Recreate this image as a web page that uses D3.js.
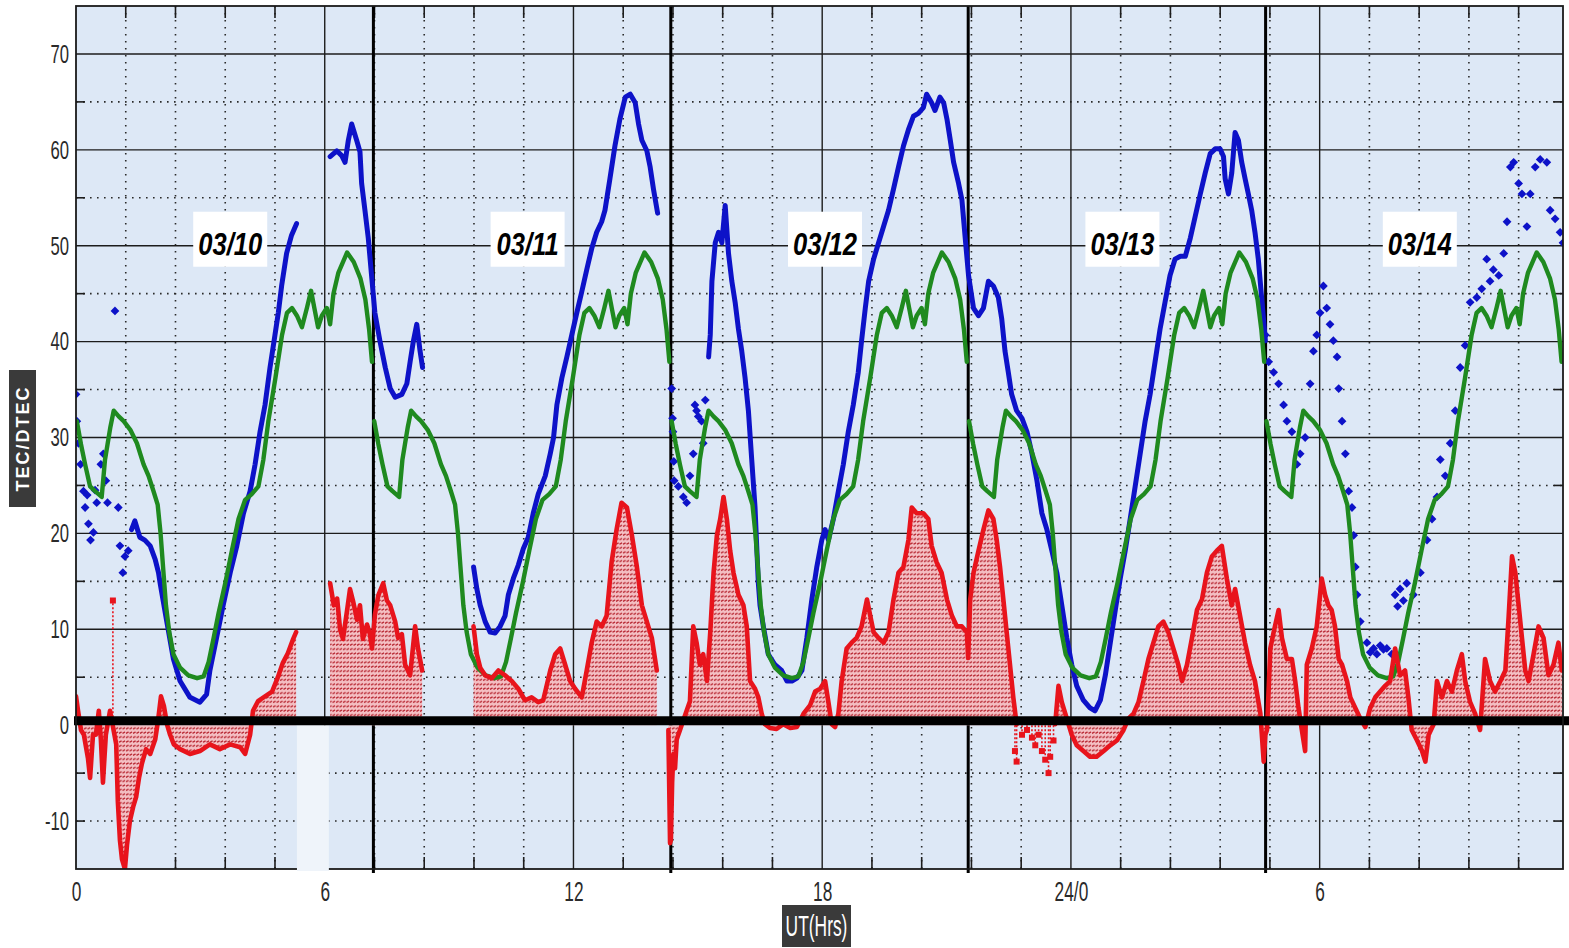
<!DOCTYPE html>
<html>
<head>
<meta charset="utf-8">
<script src="https://cdn.jsdelivr.net/npm/d3@7"></script>
<style>
  html, body { margin: 0; padding: 0; background: #ffffff; }
  svg { display: block; }
</style>
</head>
<body>
<svg id="chart" width="1569" height="948"></svg>
<script>
// ---------------------------------------------------------------
// TEC / DTEC, 10-14 March, plotted against UT hours
// ---------------------------------------------------------------

const dayStartHours = [0, 7.174, 14.348, 21.522, 28.696];
const dayLabels = ["03/10", "03/11", "03/12", "03/13", "03/14"];

const yTickValues = [-10, 0, 10, 20, 30, 40, 50, 60, 70];
const xTickValues = [0, 6, 12, 18, 24, 30];
const xTickLabels = ["0", "6", "12", "18", "24/0", "6"];

// stretch with no usable samples
const gapBands = [[5.33, 6.10]];

// monthly mean TEC for one day, [hour within day, TEC]
const meanTecProfile = [
  [0.02,31.7],[0.12,29.3],[0.22,27.2],[0.34,24.9],[0.46,24.4],[0.62,23.8],[0.70,27.7],
  [0.83,31.1],[0.91,32.8],[1.03,32.2],[1.15,31.7],[1.31,30.8],[1.47,29.4],[1.63,27.2],
  [1.75,26.0],[1.87,24.4],[1.97,23.0],[2.04,20.0],[2.10,16.5],[2.17,12.5],[2.25,9.7],
  [2.35,7.4],[2.51,6.0],[2.71,5.2],[2.92,4.9],[3.08,5.1],[3.20,6.6],[3.32,9.1],[3.44,11.7],
  [3.60,14.8],[3.76,18.2],[3.92,21.5],[4.08,23.5],[4.24,24.1],[4.40,24.9],[4.52,27.7],
  [4.64,31.7],[4.81,36.2],[4.97,40.7],[5.09,43.0],[5.21,43.5],[5.33,42.7],[5.45,41.5],
  [5.57,43.5],[5.67,45.3],[5.75,43.5],[5.84,41.5],[5.93,42.7],[6.05,43.5],[6.13,41.8],
  [6.21,45.0],[6.33,47.2],[6.54,49.3],[6.70,48.3],[6.86,46.6],[6.98,44.4],[7.07,41.3],[7.14,37.9]
];

// observed TEC, continuous tracks (null = break)
const tecTrace = [
  [1.34,20.4],[1.42,21.3],[1.54,19.6],[1.66,19.3],[1.79,18.7],[1.91,17.3],
  [1.99,15.9],[2.03,14.8],[2.19,10.8],[2.35,6.9],[2.51,4.6],[2.75,2.9],[2.99,2.4],[3.15,3.2],
  [3.23,5.7],[3.39,9.1],[3.55,12.5],[3.72,15.9],[3.88,18.7],[4.04,22.1],[4.20,24.4],[4.32,27.2],
  [4.44,30.6],[4.56,33.4],[4.68,37.3],[4.80,40.7],[4.88,43.0],[4.96,45.8],[5.08,49.2],[5.20,51.1],[5.32,52.3],
  null,
  [6.13,59.3],[6.29,59.9],[6.41,59.4],[6.49,58.7],[6.57,61.0],[6.65,62.7],[6.77,61.0],[6.85,59.8],
  [6.89,56.5],[6.97,53.7],[7.05,50.8],[7.13,46.9],[7.21,43.0],[7.33,40.1],[7.46,37.3],[7.58,35.1],
  [7.70,34.2],[7.86,34.5],[7.98,35.6],[8.06,37.9],[8.14,40.1],[8.22,41.8],[8.30,39.0],[8.36,37.3],
  null,
  [9.59,16.5],[9.67,14.2],[9.75,12.5],[9.87,10.8],[9.99,9.7],[10.11,9.6],[10.23,10.3],[10.35,11.4],
  [10.43,13.6],[10.55,15.3],[10.67,16.7],[10.79,18.4],[10.91,19.6],[11.03,22.1],[11.15,24.1],
  [11.32,26.0],[11.44,28.3],[11.52,30.0],[11.60,33.4],[11.72,36.2],[11.84,38.4],[11.96,40.7],
  [12.08,43.0],[12.20,45.2],[12.32,47.5],[12.44,49.7],[12.56,51.4],[12.68,52.5],[12.76,53.7],
  [12.88,57.0],[13.00,60.4],[13.12,63.2],[13.25,65.5],[13.37,65.8],[13.49,64.9],[13.57,62.7],
  [13.65,61.0],[13.77,59.9],[13.85,58.2],[13.93,55.9],[14.03,53.4],
  null,
  [15.26,38.4],[15.30,40.7],[15.34,46.3],[15.42,50.3],[15.50,51.4],[15.58,50.3],[15.66,54.2],
  [15.74,49.2],[15.82,46.3],[15.90,44.1],[15.98,41.3],[16.06,39.0],[16.14,36.2],[16.22,32.8],
  [16.30,27.7],[16.38,22.7],[16.42,18.7],[16.46,14.8],[16.50,12.5],[16.58,10.3],[16.70,7.4],
  [16.86,6.3],[17.02,5.7],[17.15,4.6],[17.27,4.6],[17.39,4.9],[17.51,5.7],[17.63,9.1],[17.75,13.1],
  [17.87,16.5],[17.99,19.3],[18.07,20.4],[18.15,19.3],[18.27,21.5],[18.39,24.4],[18.51,27.2],
  [18.63,30.6],[18.75,33.4],[18.87,36.8],[18.95,40.1],[19.04,43.5],[19.12,46.3],[19.24,48.6],
  [19.36,50.3],[19.48,52.0],[19.60,53.7],[19.72,55.9],[19.84,58.2],[19.96,60.4],[20.08,62.1],
  [20.20,63.5],[20.32,63.8],[20.44,64.4],[20.52,65.8],[20.64,64.9],[20.72,64.1],[20.84,65.5],
  [20.93,64.9],[21.01,63.2],[21.09,61.0],[21.17,58.7],[21.29,56.5],[21.37,54.8],[21.45,50.8],
  [21.53,46.9],[21.65,43.5],[21.77,42.7],[21.89,43.5],[22.01,46.3],[22.13,45.8],[22.25,44.6],
  [22.33,42.4],[22.41,39.0],[22.49,36.8],[22.57,34.5],[22.69,32.8],[22.82,32.0],[22.94,30.6],
  [23.06,28.3],[23.18,25.5],[23.30,22.1],[23.42,20.4],[23.54,18.2],[23.66,15.9],[23.78,12.5],
  [23.90,9.1],[24.02,6.3],[24.14,4.1],[24.30,2.6],[24.46,1.8],[24.58,1.5],[24.71,2.6],[24.83,5.2],
  [24.95,8.6],[25.07,12.0],[25.19,15.3],[25.31,18.2],[25.43,21.5],[25.55,24.9],[25.67,28.3],
  [25.79,31.7],[25.91,34.5],[26.03,37.9],[26.15,41.3],[26.27,44.1],[26.39,46.9],[26.51,48.6],
  [26.64,48.9],[26.76,48.9],[26.88,50.8],[27.00,53.1],[27.12,55.4],[27.24,57.6],[27.36,59.6],
  [27.48,60.1],[27.60,60.1],[27.68,59.3],[27.72,57.0],[27.80,55.4],[27.88,57.6],[27.96,61.8],
  [28.04,61.0],[28.12,58.7],[28.20,57.0],[28.28,55.4],[28.36,53.7],[28.44,51.4],[28.52,48.6],
  [28.61,44.1],[28.69,40.1]
];

// observed TEC, isolated samples
const tecScatter = [
  [0.00,34.5],[0.02,31.7],[0.06,29.4],[0.11,27.2],[0.18,24.4],[0.22,22.7],[0.27,24.0],[0.30,21.0],
  [0.35,19.3],[0.42,20.1],[0.46,24.5],[0.50,23.2],[0.60,27.2],[0.66,28.3],[0.72,25.5],[0.76,23.2],
  [0.94,43.2],[1.02,22.7],[1.06,18.7],[1.13,15.9],[1.18,17.6],[1.26,18.2],
  [14.37,35.1],[14.39,32.0],[14.40,30.6],[14.42,27.5],[14.43,25.5],[14.53,24.9],[14.65,23.8],
  [14.73,23.2],[14.81,26.0],[14.89,28.3],[14.93,33.4],[14.97,32.8],[15.01,32.2],[15.09,31.7],
  [15.13,29.4],[15.18,33.9],
  [28.69,40.7],[28.77,37.9],[28.89,36.8],[29.01,35.6],[29.13,33.4],[29.21,31.7],[29.33,30.6],
  [29.45,27.2],[29.53,28.3],[29.65,30.0],[29.77,35.6],[29.85,39.0],[29.93,40.7],[30.01,43.0],
  [30.09,45.8],[30.17,43.5],[30.25,41.8],[30.33,40.1],[30.42,38.4],[30.46,35.1],[30.54,31.7],
  [30.62,28.3],[30.70,24.4],[30.78,22.7],[30.82,19.8],[30.86,16.5],[30.90,13.6],[30.98,10.8],
  [31.14,8.6],[31.22,7.6],[31.30,8.0],[31.38,7.4],[31.46,8.3],[31.54,7.9],[31.62,8.0],[31.74,7.4],
  [31.82,13.6],[31.88,12.4],[31.94,14.2],[32.02,13.0],[32.10,14.8],[32.26,13.6],[32.43,15.9],
  [32.59,19.3],[32.71,21.5],[32.83,23.8],[32.91,27.7],[33.03,26.0],[33.15,29.4],[33.27,32.8],
  [33.39,37.3],[33.51,39.6],[33.63,44.1],[33.79,44.6],[33.91,45.5],[34.03,48.6],[34.11,46.3],
  [34.19,47.5],[34.32,46.9],[34.44,49.2],[34.52,52.5],[34.60,58.2],[34.68,58.7],[34.80,56.5],
  [34.88,55.4],[35.00,52.0],[35.08,55.4],[35.20,58.2],[35.32,59.0],[35.48,58.7],[35.56,53.7],
  [35.68,52.8],[35.80,51.4],[35.87,50.3]
];

// DTEC = TEC - mean, continuous tracks (null = break)
const dtecTrace = [
  [0.00,3.0],[0.05,1.5],[0.12,-0.5],[0.19,-1.0],[0.29,-3.5],[0.34,-5.5],[0.41,-1.0],[0.48,-1.0],
  [0.55,1.5],[0.60,-1.5],[0.65,-6.0],[0.72,-1.0],[0.82,1.5],[0.97,-2.0],[1.01,-8.0],[1.06,-12.0],
  [1.11,-14.0],[1.18,-15.0],[1.23,-12.5],[1.30,-10.0],[1.38,-8.5],[1.45,-7.5],[1.52,-5.5],
  [1.59,-4.0],[1.69,-2.5],[1.79,-3.0],[1.91,-1.5],[1.98,0.5],[2.05,3.0],[2.12,2.0],[2.20,0.0],
  [2.27,-1.0],[2.36,-2.0],[2.51,-2.5],[2.75,-3.0],[2.99,-2.7],[3.23,-2.0],[3.47,-2.5],[3.72,-2.0],
  [3.96,-2.3],[4.08,-3.0],[4.20,-1.0],[4.27,1.5],[4.39,2.5],[4.56,3.0],[4.73,3.5],[4.87,5.0],
  [4.99,6.5],[5.11,7.5],[5.24,9.0],[5.31,9.7],
  null,
  [6.13,14.8],[6.22,12.5],[6.30,13.2],[6.37,10.0],[6.44,9.0],[6.54,12.0],[6.61,14.2],[6.68,13.0],
  [6.78,11.0],[6.85,12.5],[6.92,9.0],[7.02,10.5],[7.09,9.5],[7.14,8.0],[7.21,11.5],[7.29,13.5],
  [7.41,14.8],[7.50,13.0],[7.58,12.5],[7.70,10.8],[7.77,9.1],[7.86,9.5],[7.94,6.3],[8.06,5.2],
  [8.18,10.3],[8.25,8.0],[8.35,5.7],
  null,
  [9.59,10.3],[9.67,7.4],[9.75,6.0],[9.87,5.2],[10.03,4.9],[10.19,5.7],[10.35,5.2],[10.51,4.6],
  [10.67,3.8],[10.83,2.6],[10.99,2.9],[11.15,2.4],[11.27,2.6],[11.44,5.7],[11.56,7.4],[11.68,8.0],
  [11.80,6.3],[11.92,4.6],[12.04,3.8],[12.20,2.9],[12.32,5.7],[12.44,8.6],[12.56,10.8],[12.68,10.3],
  [12.80,11.4],[12.92,17.0],[13.04,20.4],[13.16,23.2],[13.29,22.7],[13.41,19.8],[13.53,16.5],
  [13.65,12.5],[13.77,10.8],[13.89,9.1],[14.01,5.7],
  null,
  [14.29,-0.5],[14.33,-12.3],[14.35,-12.0],[14.38,-6.0],[14.41,-3.0],[14.45,-4.5],[14.49,-1.5],
  [14.57,-0.5],[14.65,0.5],[14.73,1.5],[14.81,2.5],[14.89,10.3],[14.97,8.6],[15.05,6.3],[15.13,7.4],
  [15.22,4.6],[15.30,9.7],[15.38,15.9],[15.46,19.8],[15.54,21.5],[15.62,23.8],[15.70,21.5],
  [15.78,18.2],[15.86,15.9],[15.98,13.6],[16.10,12.5],[16.18,10.3],[16.26,4.6],[16.38,3.8],
  [16.46,2.9],[16.54,1.2],[16.62,0.1],[16.74,-0.3],[16.90,-0.4],[17.06,0.1],[17.23,-0.3],
  [17.39,-0.2],[17.55,1.2],[17.71,2.1],[17.83,3.5],[17.95,3.8],[18.07,4.6],[18.15,2.4],[18.23,0.1],
  [18.31,-0.2],[18.39,1.2],[18.47,4.6],[18.59,8.0],[18.71,8.6],[18.83,9.1],[18.95,10.3],
  [19.08,13.1],[19.16,11.4],[19.24,9.7],[19.36,9.1],[19.48,8.6],[19.60,9.7],[19.72,13.1],
  [19.84,15.9],[19.96,16.5],[20.08,19.3],[20.16,22.7],[20.28,22.1],[20.44,22.1],[20.56,21.5],
  [20.64,18.7],[20.76,17.0],[20.88,15.9],[21.01,13.1],[21.13,11.4],[21.25,10.3],[21.37,10.3],
  [21.49,9.7],[21.52,7.0],[21.57,13.1],[21.65,15.9],[21.77,18.2],[21.89,20.4],[22.01,22.4],
  [22.13,21.5],[22.21,19.3],[22.29,16.5],[22.37,13.1],[22.45,9.7],[22.53,6.3],[22.61,2.9],[22.69,0.1],
  null,
  [23.62,0.1],[23.70,4.1],[23.78,2.4],[23.90,0.7],[24.02,-1.0],[24.14,-2.1],[24.30,-2.7],
  [24.46,-3.3],[24.62,-3.3],[24.79,-2.7],[24.95,-2.1],[25.11,-1.6],[25.27,-0.5],[25.39,0.7],
  [25.51,1.2],[25.63,2.4],[25.75,4.6],[25.87,6.9],[25.99,8.6],[26.11,10.3],[26.23,10.8],
  [26.35,9.7],[26.47,8.0],[26.59,6.3],[26.68,4.6],[26.80,6.3],[26.92,9.1],[27.04,12.0],
  [27.16,13.1],[27.28,15.9],[27.40,17.6],[27.52,18.2],[27.64,18.7],[27.76,15.3],[27.88,12.5],
  [27.96,14.2],[28.08,11.4],[28.20,8.6],[28.32,6.3],[28.44,4.6],[28.57,1.2],[28.65,-3.8],
  [28.69,-1.0],[28.73,-0.5],[28.81,8.0],[28.89,9.7],[29.01,12.0],[29.09,9.1],[29.21,6.9],
  [29.33,6.9],[29.41,4.6],[29.49,1.8],[29.57,-0.5],[29.65,-2.7],[29.69,6.3],[29.81,8.0],
  [29.93,10.3],[30.05,15.3],[30.13,13.6],[30.21,12.5],[30.29,12.0],[30.37,10.3],[30.46,6.9],
  [30.54,6.3],[30.66,4.6],[30.74,2.9],[30.86,1.8],[30.98,0.7],[31.10,-0.2],[31.22,1.8],
  [31.34,2.9],[31.46,3.5],[31.58,4.1],[31.70,4.6],[31.82,8.0],[31.94,5.2],[32.06,5.7],[32.14,2.9],
  [32.22,-0.5],[32.35,-1.6],[32.47,-2.7],[32.55,-3.8],[32.63,-1.0],[32.75,0.1],[32.83,4.6],
  [32.95,2.9],[33.07,4.6],[33.19,3.5],[33.31,5.7],[33.43,7.4],[33.51,4.6],[33.63,2.4],[33.75,1.2],
  [33.87,-0.5],[33.99,6.9],[34.11,4.6],[34.23,3.5],[34.36,4.6],[34.48,5.7],[34.56,11.4],
  [34.64,17.6],[34.72,15.9],[34.80,12.5],[34.88,9.1],[34.96,5.7],[35.04,4.6],[35.16,7.4],
  [35.28,10.3],[35.40,9.1],[35.52,5.2],[35.64,6.3],[35.76,8.6],[35.84,5.7]
];

// DTEC, isolated samples
const dtecScatter = [
  [0.89,13.0],
  [22.65,-2.7],[22.69,-3.8],[22.82,-1.0],[22.94,-0.5],[23.06,-1.3],[23.14,-2.1],[23.22,-1.0],
  [23.30,-2.7],[23.38,-3.6],[23.46,-5.0],[23.50,-3.3],[23.58,-1.6]
];

// ---------------------------------------------------------------
const svg = d3.select("#chart");
const plotLeft = 76, plotRight = 1563, plotTop = 6, plotBottom = 869;

const x = d3.scaleLinear().domain([0, 35.87]).range([plotLeft, plotRight]);
const y = d3.scaleLinear().domain([-15, 75]).range([plotBottom, plotTop]);

const COL_TEC = "#0d12c8";
const COL_MEAN = "#1f8a1f";
const COL_DTEC = "#e8141c";
const FONT = "'Liberation Sans', Arial, sans-serif";

const defs = svg.append("defs");
defs.append("clipPath").attr("id", "plotClip")
  .append("rect").attr("x", plotLeft).attr("y", plotTop)
  .attr("width", plotRight - plotLeft).attr("height", plotBottom - plotTop);

// DTEC shading: pink ground with rows of short dark-red dashes
const hatch = defs.append("pattern").attr("id", "dtecHatch")
  .attr("patternUnits", "userSpaceOnUse").attr("width", 7).attr("height", 4.4);
hatch.append("rect").attr("width", 7).attr("height", 4.4).attr("fill", "#f4bfc3");
hatch.append("path").attr("d", "M0,3 L2.6,1.6 M3.5,3 L6.1,1.6")
  .attr("stroke", "#b51f2b").attr("stroke-width", 1.3).attr("fill", "none");

// plot background
svg.append("rect")
  .attr("x", plotLeft).attr("y", plotTop)
  .attr("width", plotRight - plotLeft).attr("height", plotBottom - plotTop)
  .attr("fill", "#dde8f6");

// ---- grid ----
const grid = svg.append("g");
const minorHours = d3.range(1, 30).map(i => +(i * 1.2).toFixed(2)).filter(h => Math.abs(h % 6) > 1e-6 && Math.abs(h % 6 - 6) > 1e-6);
const majorHours = [6, 12, 18, 24, 30];
const solidLevels = [10, 20, 30, 40, 50, 60, 70];
const dottedLevels = [-10, -5, 5, 15, 25, 35, 45, 55, 65];

grid.selectAll(".vminor").data(minorHours).join("line")
  .attr("x1", d => x(d)).attr("x2", d => x(d))
  .attr("y1", plotTop).attr("y2", plotBottom)
  .attr("stroke", "#2a2a2a").attr("stroke-width", 1.6).attr("stroke-dasharray", "1.6,5.4");
grid.selectAll(".hminor").data(dottedLevels).join("line")
  .attr("x1", plotLeft).attr("x2", plotRight)
  .attr("y1", d => y(d)).attr("y2", d => y(d))
  .attr("stroke", "#2a2a2a").attr("stroke-width", 1.6).attr("stroke-dasharray", "1.6,5.4");
grid.selectAll(".vmajor").data(majorHours).join("line")
  .attr("x1", d => x(d)).attr("x2", d => x(d))
  .attr("y1", plotTop).attr("y2", plotBottom)
  .attr("stroke", "#1c1c1c").attr("stroke-width", 1.4);
grid.selectAll(".hmajor").data(solidLevels).join("line")
  .attr("x1", plotLeft).attr("x2", plotRight)
  .attr("y1", d => y(d)).attr("y2", d => y(d))
  .attr("stroke", "#1c1c1c").attr("stroke-width", 1.4);

// inward tick marks on the frame
const ticks = svg.append("g").attr("stroke", "#1c1c1c").attr("stroke-width", 1.6);
ticks.selectAll(".tl").data(dottedLevels).join("line")
  .attr("x1", plotLeft).attr("x2", plotLeft + 9).attr("y1", d => y(d)).attr("y2", d => y(d));
ticks.selectAll(".tr").data(dottedLevels).join("line")
  .attr("x1", plotRight - 9).attr("x2", plotRight).attr("y1", d => y(d)).attr("y2", d => y(d));
ticks.selectAll(".tb").data(minorHours).join("line")
  .attr("x1", d => x(d)).attr("x2", d => x(d)).attr("y1", plotBottom - 12).attr("y2", plotBottom);
ticks.selectAll(".tt").data(minorHours).join("line")
  .attr("x1", d => x(d)).attr("x2", d => x(d)).attr("y1", plotTop).attr("y2", plotTop + 12);

// stretch without samples
svg.selectAll(".gap").data(gapBands).join("rect")
  .attr("x", d => x(d[0])).attr("width", d => x(d[1]) - x(d[0]))
  .attr("y", y(0)).attr("height", plotBottom - y(0) + 2)
  .attr("fill", "#eff4fa");

// ---- day separators ----
svg.selectAll(".daysep").data(dayStartHours.slice(1)).join("line")
  .attr("x1", d => x(d)).attr("x2", d => x(d))
  .attr("y1", plotTop).attr("y2", plotBottom + 4)
  .attr("stroke", "#000").attr("stroke-width", 3);

// ---- data ----
const data = svg.append("g").attr("clip-path", "url(#plotClip)");

// DTEC shaded area
const dtecArea = d3.area().defined(d => d !== null)
  .x(d => x(d[0])).y0(y(0)).y1(d => y(d[1]));
data.append("path").datum(dtecTrace)
  .attr("d", dtecArea).attr("fill", "url(#dtecHatch)");

// DTEC isolated samples: dotted stems
data.selectAll(".dstem").data(dtecScatter).join("line")
  .attr("x1", d => x(d[0])).attr("x2", d => x(d[0]))
  .attr("y1", y(0)).attr("y2", d => y(d[1]))
  .attr("stroke", COL_DTEC).attr("stroke-width", 1.6).attr("stroke-dasharray", "2,2");

const line = d3.line().defined(d => d !== null).x(d => x(d[0])).y(d => y(d[1]));

// observed TEC
data.append("path").datum(tecTrace)
  .attr("d", line).attr("fill", "none").attr("stroke", COL_TEC)
  .attr("stroke-width", 5).attr("stroke-linejoin", "round").attr("stroke-linecap", "round");
data.selectAll(".tecdot").data(tecScatter).join("rect")
  .attr("x", d => x(d[0]) - 3.1).attr("y", d => y(d[1]) - 3.1)
  .attr("width", 6.2).attr("height", 6.2)
  .attr("transform", d => `rotate(45 ${x(d[0])} ${y(d[1])})`)
  .attr("fill", COL_TEC);

// monthly mean, repeated for every day
const meanDays = dayStartHours.map(s => meanTecProfile.map(p => [s + p[0], p[1]]));
data.selectAll(".mean").data(meanDays).join("path")
  .attr("d", line).attr("fill", "none").attr("stroke", COL_MEAN)
  .attr("stroke-width", 4.4).attr("stroke-linejoin", "round").attr("stroke-linecap", "round");

// DTEC track
data.append("path").datum(dtecTrace)
  .attr("d", line).attr("fill", "none").attr("stroke", COL_DTEC)
  .attr("stroke-width", 4.6).attr("stroke-linejoin", "round").attr("stroke-linecap", "round");
data.selectAll(".ddot").data(dtecScatter).join("rect")
  .attr("x", d => x(d[0]) - 3).attr("y", d => y(d[1]) - 3)
  .attr("width", 6).attr("height", 6).attr("fill", COL_DTEC);

// zero line
svg.append("line")
  .attr("x1", plotLeft - 2).attr("x2", plotRight + 6)
  .attr("y1", y(0) - 4.5).attr("y2", y(0) - 4.5)
  .attr("stroke", "#000").attr("stroke-width", 9);

// frame
svg.append("rect")
  .attr("x", plotLeft).attr("y", plotTop)
  .attr("width", plotRight - plotLeft).attr("height", plotBottom - plotTop)
  .attr("fill", "none").attr("stroke", "#1a1a1a").attr("stroke-width", 1.8);
svg.selectAll(".gapfix").data(gapBands).join("rect")
  .attr("x", d => x(d[0])).attr("width", d => x(d[1]) - x(d[0]))
  .attr("y", plotBottom - 2).attr("height", 4).attr("fill", "#eff4fa");

// ---- day labels ----
const dayLab = svg.append("g");
dayStartHours.forEach((s, i) => {
  const cx = x(s + 3.72), cy = y(50);
  dayLab.append("rect")
    .attr("x", cx - 37).attr("y", cy - 34).attr("width", 74).attr("height", 55)
    .attr("fill", "#ffffff");
  dayLab.append("text")
    .attr("transform", `translate(${cx},${cy - 1.5}) scale(0.8,1)`)
    .attr("text-anchor", "middle").attr("dominant-baseline", "central")
    .style("font-family", FONT).style("font-size", "32px")
    .style("font-weight", "bold").style("font-style", "italic")
    .attr("fill", "#000").text(dayLabels[i]);
});

// ---- axes ----
const yAxisG = svg.append("g").attr("transform", `translate(${plotLeft},0)`)
  .call(d3.axisLeft(y).tickValues(yTickValues).tickSize(0).tickPadding(0).tickFormat(d => String(d)));
yAxisG.select(".domain").remove();
yAxisG.selectAll("text")
  .attr("x", -7 / 0.64).attr("transform", "scale(0.64,1)")
  .style("font-family", FONT).style("font-size", "26px").attr("fill", "#2a2a2a");

const xAxisG = svg.append("g").attr("transform", `translate(0,${plotBottom})`)
  .call(d3.axisBottom(x).tickValues(xTickValues).tickSize(0).tickPadding(13)
    .tickFormat((d, i) => xTickLabels[i]));
xAxisG.select(".domain").remove();
xAxisG.selectAll("text")
  .attr("transform", "scale(0.64,1)")
  .style("font-family", FONT).style("font-size", "27px").attr("fill", "#2a2a2a");

// axis titles
svg.append("rect").attr("x", 782).attr("y", 905).attr("width", 69).attr("height", 42).attr("fill", "#3a3a3a");
svg.append("text")
  .attr("transform", "translate(816.5,926) scale(0.6,1)")
  .attr("text-anchor", "middle").attr("dominant-baseline", "central")
  .style("font-family", FONT).style("font-size", "29px").attr("fill", "#ffffff")
  .text("UT(Hrs)");

svg.append("rect").attr("x", 9).attr("y", 370).attr("width", 27).attr("height", 137).attr("fill", "#3a3a3a");
svg.append("text")
  .attr("transform", "translate(23,438.5) rotate(-90)")
  .attr("text-anchor", "middle").attr("dominant-baseline", "central")
  .style("font-family", FONT).style("font-size", "18px").style("font-weight", "bold")
  .style("letter-spacing", "2px").attr("fill", "#ffffff")
  .text("TEC/DTEC");
</script>
</body>
</html>
